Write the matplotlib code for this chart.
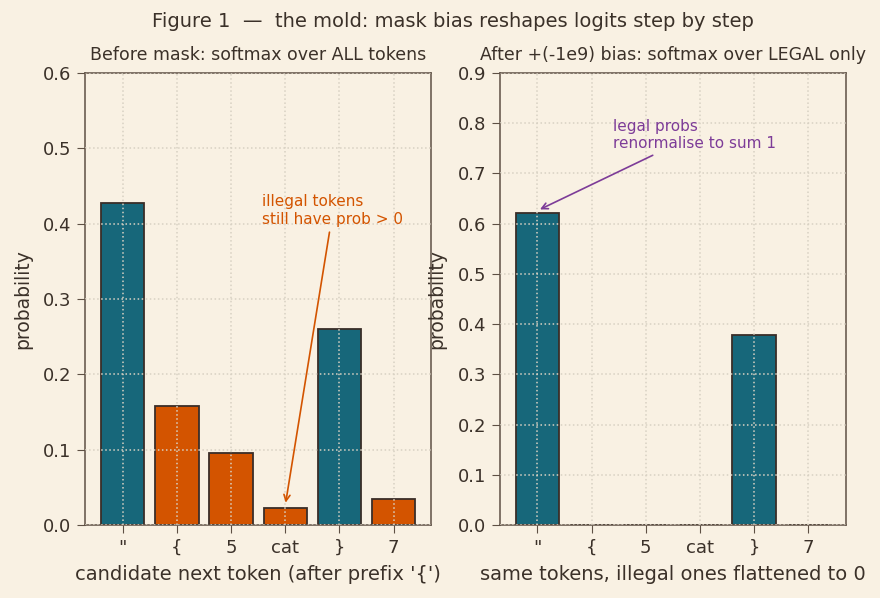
import matplotlib
matplotlib.use('Agg')
import matplotlib.pyplot as plt

tokens = ['"', '{', '5', 'cat', '}', '7']
legal = [True, False, False, False, True, False]
probs_before = [0.428, 0.158, 0.096, 0.022, 0.260, 0.035]
probs_after = [0.622, 0.0, 0.0, 0.0, 0.378, 0.0]

bg = '#f9f1e3'
ink = '#3b3129'
teal = '#17677a'
orange = '#d35400'
purple = '#7d3c98'

plt.rcParams['font.family'] = 'DejaVu Sans'
plt.rcParams['text.color'] = ink
plt.rcParams['axes.labelcolor'] = ink
plt.rcParams['xtick.color'] = ink
plt.rcParams['ytick.color'] = ink

fig, (ax1, ax2) = plt.subplots(1, 2, figsize=(8.8, 5.98), dpi=100)
fig.patch.set_facecolor(bg)

x = range(len(tokens))
cols = [teal if l else orange for l in legal]

for ax in (ax1, ax2):
    ax.set_facecolor(bg)
    ax.grid(True, linestyle=':', color='#d8d1c3', linewidth=1.1)
    ax.set_axisbelow(False)
    for s in ax.spines.values():
        s.set_color('#5e5044')
        s.set_linewidth(1.1)
    ax.tick_params(labelsize=13, length=5.5, pad=4.5, color='#5e5044')
    ax.set_ylabel('probability', fontsize=13.5, labelpad=8)

ax1.bar(x, probs_before, color=cols, edgecolor='#3a2e28', linewidth=1.3, zorder=1)
ax1.set_xticks(list(x))
ax1.set_xticklabels(tokens)
ax1.set_ylim(0, 0.6)
ax1.set_title('Before mask: softmax over ALL tokens', fontsize=12.5, pad=9.5)
ax1.set_xlabel("candidate next token (after prefix '{')", fontsize=14, labelpad=6)
ax1.annotate('illegal tokens\nstill have prob > 0', xy=(3, probs_before[3] + 0.004),
             xytext=(2.58, 0.40), color=orange, fontsize=11,
             arrowprops=dict(arrowstyle='->', color=orange, lw=1.2))

ax2.bar(x, probs_after, color=teal, edgecolor='#3a2e28', linewidth=1.3, zorder=1)
ax2.set_xticks(list(x))
ax2.set_xticklabels(tokens)
ax2.set_ylim(0, 0.9)
ax2.set_title('After +(-1e9) bias: softmax over LEGAL only', fontsize=12.5, pad=9.5)
ax2.set_xlabel('same tokens, illegal ones flattened to 0', fontsize=14, labelpad=6)
ax2.annotate('legal probs\nrenormalise to sum 1', xy=(0, probs_after[0] + 0.004),
             xytext=(1.4, 0.75), color=purple, fontsize=11,
             arrowprops=dict(arrowstyle='->', color=purple, lw=1.2))

fig.suptitle('Figure 1  —  the mold: mask bias reshapes logits step by step', fontsize=14, x=0.515)
fig.subplots_adjust(left=0.097, right=0.961, top=0.878, bottom=0.122, wspace=0.2)

plt.savefig('out.png', dpi=100, facecolor=bg)
